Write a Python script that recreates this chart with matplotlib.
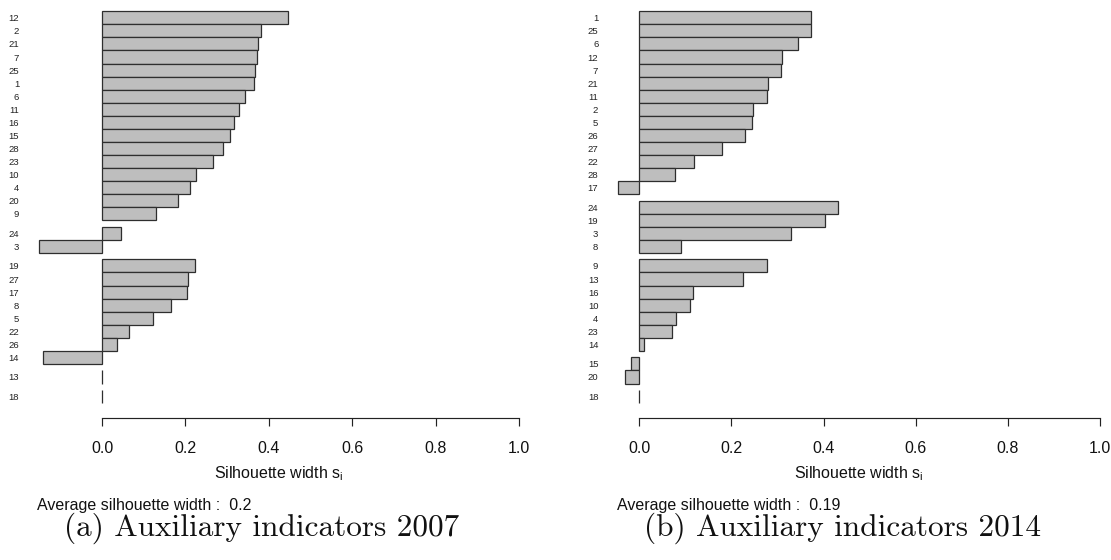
import matplotlib
matplotlib.use("Agg")
import matplotlib.pyplot as plt
import numpy as np

# ---------------- data ----------------
labels_2007 = ['12', '2', '21', '7', '25', '1', '6', '11', '16', '15', '28', '23', '10', '4',
               '20', '9', '24', '3', '19', '27', '17', '8', '5', '22', '26', '14', '13', '18']
values_2007 = [0.446, 0.382, 0.374, 0.372, 0.366, 0.365, 0.342, 0.328, 0.317, 0.306, 0.291,
               0.266, 0.226, 0.211, 0.182, 0.130, 0.046, -0.151, 0.223, 0.207, 0.203, 0.166,
               0.121, 0.065, 0.037, -0.142, 0.0, 0.0]
clusters_2007 = [1] * 16 + [2] * 2 + [3] * 8 + [4] + [5]
avg_2007 = "0.2"

labels_2014 = ['1', '25', '6', '12', '7', '21', '11', '2', '5', '26', '27', '22', '28', '17',
               '24', '19', '3', '8', '9', '13', '16', '10', '4', '23', '14', '15', '20', '18']
values_2014 = [0.373, 0.373, 0.345, 0.310, 0.307, 0.280, 0.278, 0.246, 0.244, 0.230, 0.180,
               0.118, 0.078, -0.046, 0.431, 0.403, 0.329, 0.091, 0.277, 0.226, 0.116, 0.110,
               0.079, 0.070, 0.011, -0.018, -0.032, 0.0]
clusters_2014 = [1] * 14 + [2] * 4 + [3] * 7 + [4] * 2 + [5]
avg_2014 = "0.19"

x_ticks = [0.0, 0.2, 0.4, 0.6, 0.8, 1.0]
captions = ["(a) Auxiliary indicators 2007", "(b) Auxiliary indicators 2014"]

# ---------------- style ----------------
W, H = 1111, 560
DPI = 100
SANS = "Liberation Sans"
plt.rcParams["font.family"] = [SANS, "DejaVu Sans"]
plt.rcParams["mathtext.fontset"] = "custom"
plt.rcParams["mathtext.rm"] = SANS

BAR_FILL = "#bebebe"
BAR_EDGE = "#2e2e2e"
TXT = "#111111"
FS = 11.5

fig = plt.figure(figsize=(W / DPI, H / DPI), dpi=DPI)
fig.patch.set_facecolor("white")


def px_x(x):
    return x / W


def px_y(y):
    return 1 - y / H


def silhouette_panel(left_px, right_px, labels, values, clusters, avg, caption,
                     avg_x_px, cap_x_px):
    # bar positions: contiguous bars, half-bar gap between clusters
    pos = []
    cur = 0.0
    for i, c in enumerate(clusters):
        if i > 0 and c != clusters[i - 1]:
            cur += 0.5
        pos.append(cur + 0.5)
        cur += 1.0

    top_px, bot_px = 0.0, 418.3
    unit_px = 13.06
    ax = fig.add_axes([px_x(left_px), px_y(bot_px),
                       px_x(right_px - left_px), (bot_px - top_px) / H])
    vmin = min(0.0, min(values))
    rng = 1.0 - vmin
    ax.set_xlim(vmin - 0.04 * rng, 1.0 + 0.04 * rng)
    y_top = -11.3 / unit_px
    y_bot = y_top + (bot_px - top_px) / unit_px
    ax.set_ylim(y_bot, y_top)

    ax.barh(pos, values, height=1.0, color=BAR_FILL, edgecolor=BAR_EDGE,
            linewidth=0.9, align="center")

    for s in ["left", "top", "right"]:
        ax.spines[s].set_visible(False)
    ax.spines["bottom"].set_bounds(0.0, 1.0)
    ax.spines["bottom"].set_linewidth(0.85)
    ax.spines["bottom"].set_color("#222222")

    ax.set_xticks(x_ticks)
    ax.set_xticklabels([f"{t:.1f}" for t in x_ticks])
    ax.tick_params(axis="x", length=5.8, width=0.85, color="#222222", pad=10.5,
                   labelsize=FS, labelcolor=TXT)
    ax.set_yticks(pos)
    ax.set_yticklabels(labels)
    ax.tick_params(axis="y", length=0, pad=0.5, labelsize=6.8, labelcolor="#222222")
    ax.set_facecolor("none")

    # x-axis title centred under plot region
    cx = (left_px + right_px) / 2
    fig.text(px_x(cx), px_y(478.3), r"Silhouette width s$_\mathregular{i}$",
             ha="center", va="baseline", fontsize=FS, color=TXT)
    fig.text(px_x(avg_x_px), px_y(510), "Average silhouette width :  " + avg,
             ha="left", va="baseline", fontsize=FS, color=TXT)
    fig.text(px_x(cap_x_px), px_y(536), caption, ha="center", va="baseline",
             fontsize=22.5, family="cmr10", color=TXT)
    return ax


silhouette_panel(19.8, 538.5, labels_2007, values_2007, clusters_2007, avg_2007,
                 captions[0], 36.7, 262)
silhouette_panel(599.0, 1119.0, labels_2014, values_2014, clusters_2014, avg_2014,
                 captions[1], 616.7, 842)

fig.savefig("out.png", dpi=DPI, facecolor="white")
